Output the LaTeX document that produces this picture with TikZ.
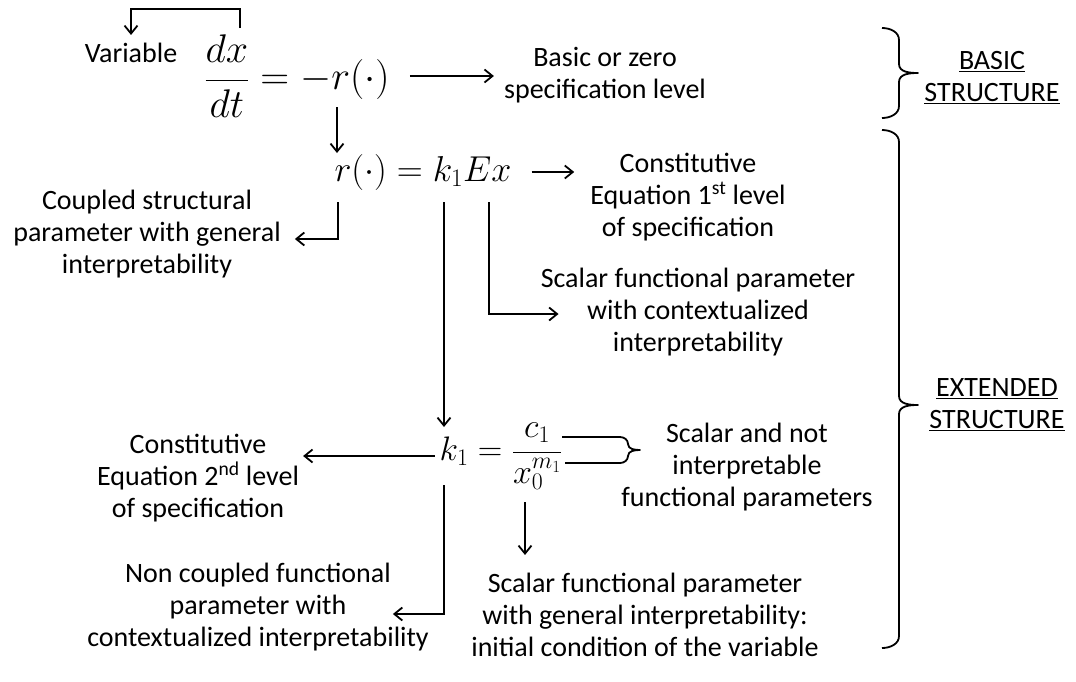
\RequirePackage{fix-cm}
\documentclass[tikz,border=0pt]{standalone}
\usepackage[no-math]{fontspec}
\setmainfont{Carlito}
\usetikzlibrary{arrows.meta}

\tikzset{
  lbl/.style={align=center, inner sep=0pt, font=\fontsize{28}{32}\selectfont},
  eqn/.style={inner sep=0pt},
  arr/.style={-{Straight Barb[length=8pt,width=13pt]}, line width=1.8pt},
  brc/.style={line width=1.8pt, line join=round},
}

\begin{document}
\begin{tikzpicture}[x=1pt,y=-1pt]
\useasboundingbox (0,0) rectangle (1076,681);

% basic structure
\node[lbl] (var) at (131,53) {Variable};
\node[eqn,font=\fontsize{40}{46}\selectfont] (ode) at (297,76) {$\displaystyle\frac{dx}{dt}=-r(\cdot)$};
\node[lbl] (basic) at (605,75) {Basic or zero\\specification level};
\node[lbl] (bstr) at (992,78) {\underline{BASIC}\\\underline{STRUCTURE}};

% constitutive equation, 1st level
\node[eqn,font=\fontsize{36}{42}\selectfont] (req) at (423,172) {$r(\cdot)=k_1Ex$};
\node[lbl] (cons1) at (688,197) {Constitutive\\Equation 1\textsuperscript{st} level\\of specification};
\node[lbl] (coup) at (147,234) {Coupled structural\\parameter with general\\interpretability};
\node[lbl] (sfp1) at (698,312) {Scalar functional parameter\\with contextualized\\interpretability};

% constitutive equation, 2nd level
\node[eqn,font=\fontsize{34}{40}\selectfont] (keq) at (501,456) {$k_1=\displaystyle\frac{c_1}{x_0^{m_1}}$};
\node[lbl] (cons2) at (198,478) {Constitutive\\Equation 2\textsuperscript{nd} level\\of specification};
\node[lbl] (snot) at (747,467) {Scalar and not\\interpretable\\functional parameters};
\node[lbl] (ncoup) at (258,607) {Non coupled functional\\parameter with\\contextualized interpretability};
\node[lbl] (sgen) at (645,615) {Scalar functional parameter\\with general interpretability:\\initial condition of the variable};
\node[lbl] (estr) at (997,405) {\underline{EXTENDED}\\\underline{STRUCTURE}};

% points on the equations
\coordinate (dxtop) at (240,28);
\coordinate (rbot) at (337,107);
\coordinate (rtop) at (337,153);
\coordinate (r2) at (338,202);
\coordinate (e2) at (489,202);
\coordinate (k2) at (444,202);
\coordinate (k3top) at (444,427);
\coordinate (k3bot) at (444,485);
\coordinate (x0bot) at (525,502);

\draw[arr, shorten >=8pt] (dxtop) -- ++(0,-19) -| (var.north);
\draw[arr] (rbot) -- (rtop);
\draw[arr, shorten <=20pt, shorten >=10pt] (ode.east) -- (ode.east -| basic.west);
\draw[arr, shorten <=20pt, shorten >=16pt] (req.east) -- (req.east -| cons1.west);
\draw[arr] (r2) |- ([xshift=14pt,yshift=-5pt]coup.east);
\draw[arr] (e2) |- ([xshift=18pt,yshift=-2pt]sfp1.west);
\draw[arr] (k2) -- (k3top);
\draw[arr, shorten <=5pt, shorten >=4pt] (keq.west) -- (keq.west -| cons2.east);
\draw[arr] (k3bot) |- ([xshift=-36pt,yshift=-7pt]ncoup.east);
\draw[arr, shorten >=18pt] (x0bot) -- (x0bot |- sgen.north);

% braces
\draw[brc] (562,437) -- (620,437) to[out=0,in=90] (628,444) to[out=-90,in=180] (640,450)
  to[out=180,in=90] (628,456) to[out=-90,in=0] (620,463) -- (565,463);
\draw[brc] (882,28) to[out=0,in=90] (899,40) -- (899,64) to[out=-90,in=180] (918,73)
  to[out=180,in=90] (899,82) -- (899,106) to[out=-90,in=0] (882,118);
\draw[brc] (882,130) to[out=0,in=90] (899,142) -- (899,396) to[out=-90,in=180] (918,405)
  to[out=180,in=90] (899,414) -- (899,636) to[out=-90,in=0] (882,648);
\end{tikzpicture}
\end{document}
